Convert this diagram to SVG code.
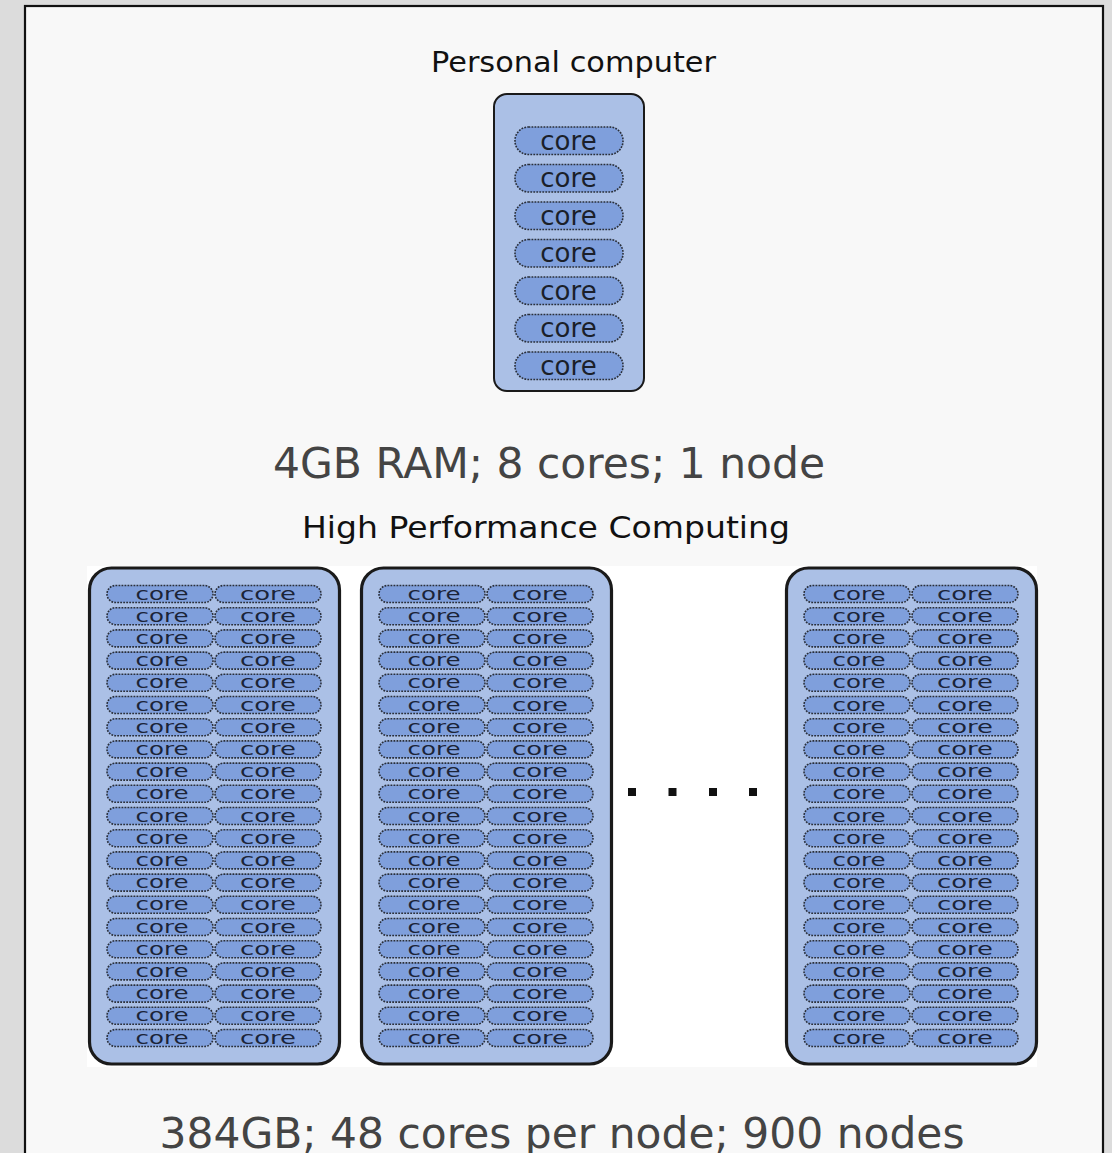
<svg xmlns="http://www.w3.org/2000/svg" width="1112" height="1153" viewBox="0 0 1112 1153">
  <style>
    .lbl { font-family: "DejaVu Sans", "Liberation Sans", sans-serif; fill: #111; text-anchor: middle; }
    .big { font-family: "DejaVu Sans", "Liberation Sans", sans-serif; fill: #444; text-anchor: middle; font-size: 42px; }
    .box { fill: #abc0e6; stroke: #1a1a1a; }
    .pill { fill: #7f9fdc; stroke: #2a2f3a; stroke-width: 1.6; stroke-dasharray: 1.8 1.2; }
    .pc { font-family: "DejaVu Sans", "Liberation Sans", sans-serif; font-size: 26px; fill: #1b1f2a; text-anchor: middle; }
    .hc { font-family: "DejaVu Sans", "Liberation Sans", sans-serif; font-size: 17px; fill: #1b2438; text-anchor: middle; }
  </style>
  <defs>
    <!-- one row of a compute node: two cores side by side -->
    <g id="row2">
      <rect class="pill" x="0" y="-8.5" width="106" height="17" rx="8.5"/>
      <rect class="pill" x="108" y="-8.5" width="106" height="17" rx="8.5"/>
      <text class="hc" x="55" y="5.5" textLength="53" lengthAdjust="spacingAndGlyphs">core</text>
      <text class="hc" x="161" y="5.5" textLength="56" lengthAdjust="spacingAndGlyphs">core</text>
    </g>
    <!-- full node column: 21 rows of cores -->
    <g id="rows">
      <use href="#row2" y="594"/>
      <use href="#row2" y="616.2"/>
      <use href="#row2" y="638.4"/>
      <use href="#row2" y="660.6"/>
      <use href="#row2" y="682.8"/>
      <use href="#row2" y="705"/>
      <use href="#row2" y="727.2"/>
      <use href="#row2" y="749.4"/>
      <use href="#row2" y="771.6"/>
      <use href="#row2" y="793.8"/>
      <use href="#row2" y="816"/>
      <use href="#row2" y="838.2"/>
      <use href="#row2" y="860.4"/>
      <use href="#row2" y="882.6"/>
      <use href="#row2" y="904.8"/>
      <use href="#row2" y="927"/>
      <use href="#row2" y="949.2"/>
      <use href="#row2" y="971.4"/>
      <use href="#row2" y="993.6"/>
      <use href="#row2" y="1015.8"/>
      <use href="#row2" y="1038"/>
    </g>
  </defs>

  <!-- page and panel -->
  <rect x="0" y="0" width="1112" height="1153" fill="#dcdcdc"/>
  <rect x="25" y="6" width="1078" height="1160" fill="#f8f8f8" stroke="#111" stroke-width="2.2"/>

  <!-- personal computer -->
  <g id="pc">
    <text class="lbl" x="573.5" y="72" font-size="28" textLength="285" lengthAdjust="spacingAndGlyphs">Personal computer</text>
    <rect class="box" x="494" y="94" width="150" height="297" rx="13" stroke-width="2"/>
    <rect class="pill" x="515" y="127" width="108" height="27.5" rx="13.5"/>
    <rect class="pill" x="515" y="164.5" width="108" height="27.5" rx="13.5"/>
    <rect class="pill" x="515" y="202" width="108" height="27.5" rx="13.5"/>
    <rect class="pill" x="515" y="239.5" width="108" height="27.5" rx="13.5"/>
    <rect class="pill" x="515" y="277" width="108" height="27.5" rx="13.5"/>
    <rect class="pill" x="515" y="314.5" width="108" height="27.5" rx="13.5"/>
    <rect class="pill" x="515" y="352" width="108" height="27.5" rx="13.5"/>
    <text class="pc" x="568.5" y="149.5">core</text>
    <text class="pc" x="568.5" y="187">core</text>
    <text class="pc" x="568.5" y="224.5">core</text>
    <text class="pc" x="568.5" y="262">core</text>
    <text class="pc" x="568.5" y="299.5">core</text>
    <text class="pc" x="568.5" y="337">core</text>
    <text class="pc" x="568.5" y="374.5">core</text>
  </g>
  <text class="big" x="549" y="478" textLength="552" lengthAdjust="spacingAndGlyphs">4GB RAM; 8 cores; 1 node</text>

  <!-- cluster -->
  <text class="lbl" x="546" y="538" font-size="30" textLength="488" lengthAdjust="spacingAndGlyphs">High Performance Computing</text>
  <rect x="87" y="566" width="950" height="501" fill="#ffffff"/>

  <g id="node1">
    <rect class="box" x="89.5" y="568" width="250" height="496" rx="22" stroke-width="3.2"/>
    <use href="#rows" x="107"/>
  </g>
  <g id="node2">
    <rect class="box" x="361.5" y="568" width="250" height="496" rx="22" stroke-width="3.2"/>
    <use href="#rows" x="379"/>
  </g>
  <g id="node3">
    <rect class="box" x="786.5" y="568" width="250" height="496" rx="22" stroke-width="3.2"/>
    <use href="#rows" x="804"/>
  </g>

  <!-- ellipsis between nodes -->
  <g id="ellipsis" fill="#111">
    <rect x="628" y="788" width="8" height="8"/>
    <rect x="668.5" y="788" width="8" height="8"/>
    <rect x="709" y="788" width="8" height="8"/>
    <rect x="749" y="788" width="8" height="8"/>
  </g>

  <text class="big" x="562" y="1148" textLength="805" lengthAdjust="spacingAndGlyphs">384GB; 48 cores per node; 900 nodes</text>
</svg>
